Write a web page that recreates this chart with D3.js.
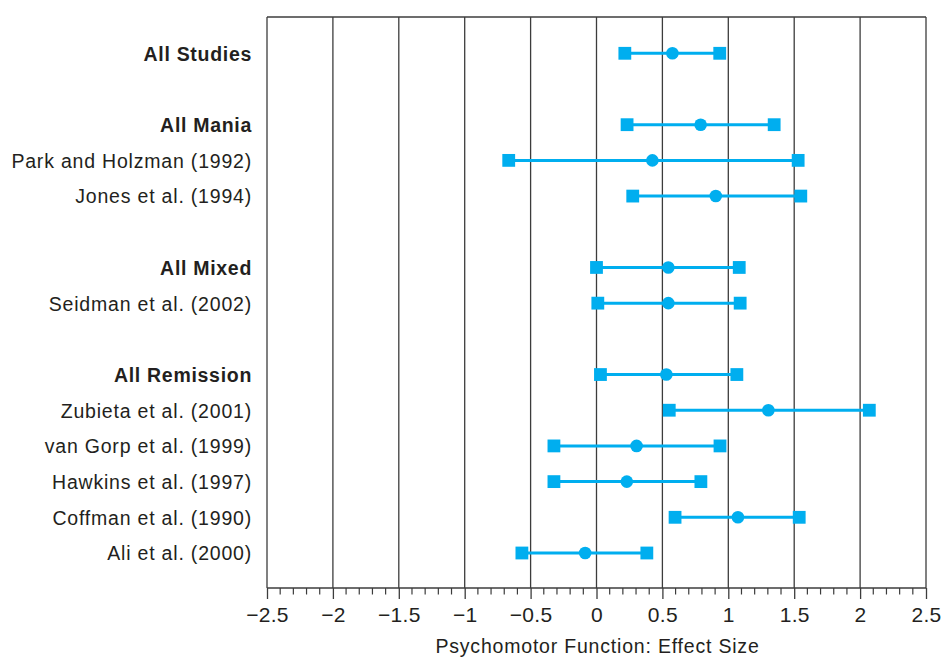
<!DOCTYPE html>
<html>
<head>
<meta charset="utf-8">
<script src="https://cdn.jsdelivr.net/npm/d3@7"></script>
<style>
  html, body { margin: 0; padding: 0; background: #fff; }
  svg { display: block; }
  text { font-family: "Liberation Sans", Arial, Helvetica, sans-serif; fill: #231f20; }
</style>
</head>
<body>
<svg id="chart" width="941" height="658"></svg>
<script>
// ---- data ----
const studies = ["All Studies", "All Mania", "Park and Holzman (1992)", "Jones et al. (1994)",
  "All Mixed", "Seidman et al. (2002)", "All Remission", "Zubieta et al. (2001)",
  "van Gorp et al. (1999)", "Hawkins et al. (1997)", "Coffman et al. (1990)", "Ali et al. (2000)"];
const isSummary = [true, true, false, false, true, false, true, false, false, false, false, false];
const rowIndex = [0, 2, 3, 4, 6, 7, 9, 10, 11, 12, 13, 14];
const lowerCI = [0.215, 0.232, -0.666, 0.275, 0.0, 0.01, 0.03, 0.552, -0.323, -0.323, 0.596, -0.566];
const effect  = [0.576, 0.79, 0.424, 0.905, 0.545, 0.545, 0.53, 1.304, 0.304, 0.23, 1.073, -0.086];
const upperCI = [0.935, 1.348, 1.53, 1.55, 1.083, 1.09, 1.065, 2.07, 0.937, 0.792, 1.538, 0.382];
const majorTicks = [-2.5, -2, -1.5, -1, -0.5, 0, 0.5, 1, 1.5, 2, 2.5];
const xTitle = "Psychomotor Function: Effect Size";

// ---- layout ----
const svg = d3.select("#chart");
const plotLeft = 267, plotRight = 926, plotTop = 17, plotBottom = 588;
const blue = "#00aeef";
const gridColor = "#3c3c3c";

const x = d3.scaleLinear().domain([-2.5, 2.5]).range([plotLeft, plotRight]);
const y = d3.scaleLinear().domain([0, 14]).range([53.3, 553]);

const rows = studies.map((s, i) => ({
  label: s, bold: isSummary[i], r: rowIndex[i], lo: lowerCI[i], est: effect[i], hi: upperCI[i]
}));

// grid lines
svg.append("g").selectAll("line").data(majorTicks).join("line")
  .attr("x1", d => x(d)).attr("x2", d => x(d))
  .attr("y1", plotTop).attr("y2", plotBottom)
  .attr("stroke", gridColor).attr("stroke-width", 1.3);

// top border
svg.append("line").attr("x1", plotLeft).attr("x2", plotRight).attr("y1", plotTop).attr("y2", plotTop)
  .attr("stroke", gridColor).attr("stroke-width", 1.3);

// bottom axis
const minor = d3.range(-25, 26).map(v => v / 10).filter(v => Math.abs(v * 2 - Math.round(v * 2)) > 1e-6);
const axis = d3.axisBottom(x).tickValues(majorTicks).tickSize(11).tickPadding(8)
  .tickFormat(d => (d < 0 ? "\u2212" : "") + d3.format("")(Math.abs(d)));
const gAxis = svg.append("g").attr("transform", `translate(0,${plotBottom})`).call(axis);
gAxis.select(".domain").attr("stroke", gridColor).attr("stroke-width", 1.3).attr("d", `M${plotLeft},0H${plotRight}`);
gAxis.selectAll(".tick line").attr("stroke", gridColor).attr("stroke-width", 1.3);
gAxis.selectAll(".tick text").attr("font-size", 21).attr("fill", "#231f20")
  .style("font-family", '"Liberation Sans", Arial, sans-serif').style("letter-spacing", "0.3px");
gAxis.append("g").selectAll("line").data(minor).join("line")
  .attr("x1", d => x(d)).attr("x2", d => x(d)).attr("y1", 0).attr("y2", 6.5)
  .attr("stroke", gridColor).attr("stroke-width", 1.2);

// axis title
svg.append("text").attr("x", x(0) + 1).attr("y", 653).attr("text-anchor", "middle")
  .attr("font-size", 19.5).style("letter-spacing", "0.8px").text(xTitle);

// row labels
svg.append("g").selectAll("text").data(rows).join("text")
  .attr("x", 252).attr("y", d => y(d.r)).attr("dy", "0.38em")
  .attr("text-anchor", "end")
  .attr("font-size", 19.5)
  .attr("font-weight", d => d.bold ? "bold" : "normal")
  .style("letter-spacing", d => d.bold ? "0.7px" : "0.8px")
  .text(d => d.label);

// CI lines
const g = svg.append("g");
g.selectAll("line.ci").data(rows).join("line").attr("class", "ci")
  .attr("x1", d => x(d.lo)).attr("x2", d => x(d.hi))
  .attr("y1", d => y(d.r)).attr("y2", d => y(d.r))
  .attr("stroke", blue).attr("stroke-width", 3);

const sq = 12.8;
g.selectAll("rect.lo").data(rows).join("rect").attr("class", "lo")
  .attr("x", d => x(d.lo) - sq / 2).attr("y", d => y(d.r) - sq / 2)
  .attr("width", sq).attr("height", sq).attr("fill", blue);
g.selectAll("rect.hi").data(rows).join("rect").attr("class", "hi")
  .attr("x", d => x(d.hi) - sq / 2).attr("y", d => y(d.r) - sq / 2)
  .attr("width", sq).attr("height", sq).attr("fill", blue);
g.selectAll("circle").data(rows).join("circle")
  .attr("cx", d => x(d.est)).attr("cy", d => y(d.r)).attr("r", 6.3).attr("fill", blue);
</script>
</body>
</html>
